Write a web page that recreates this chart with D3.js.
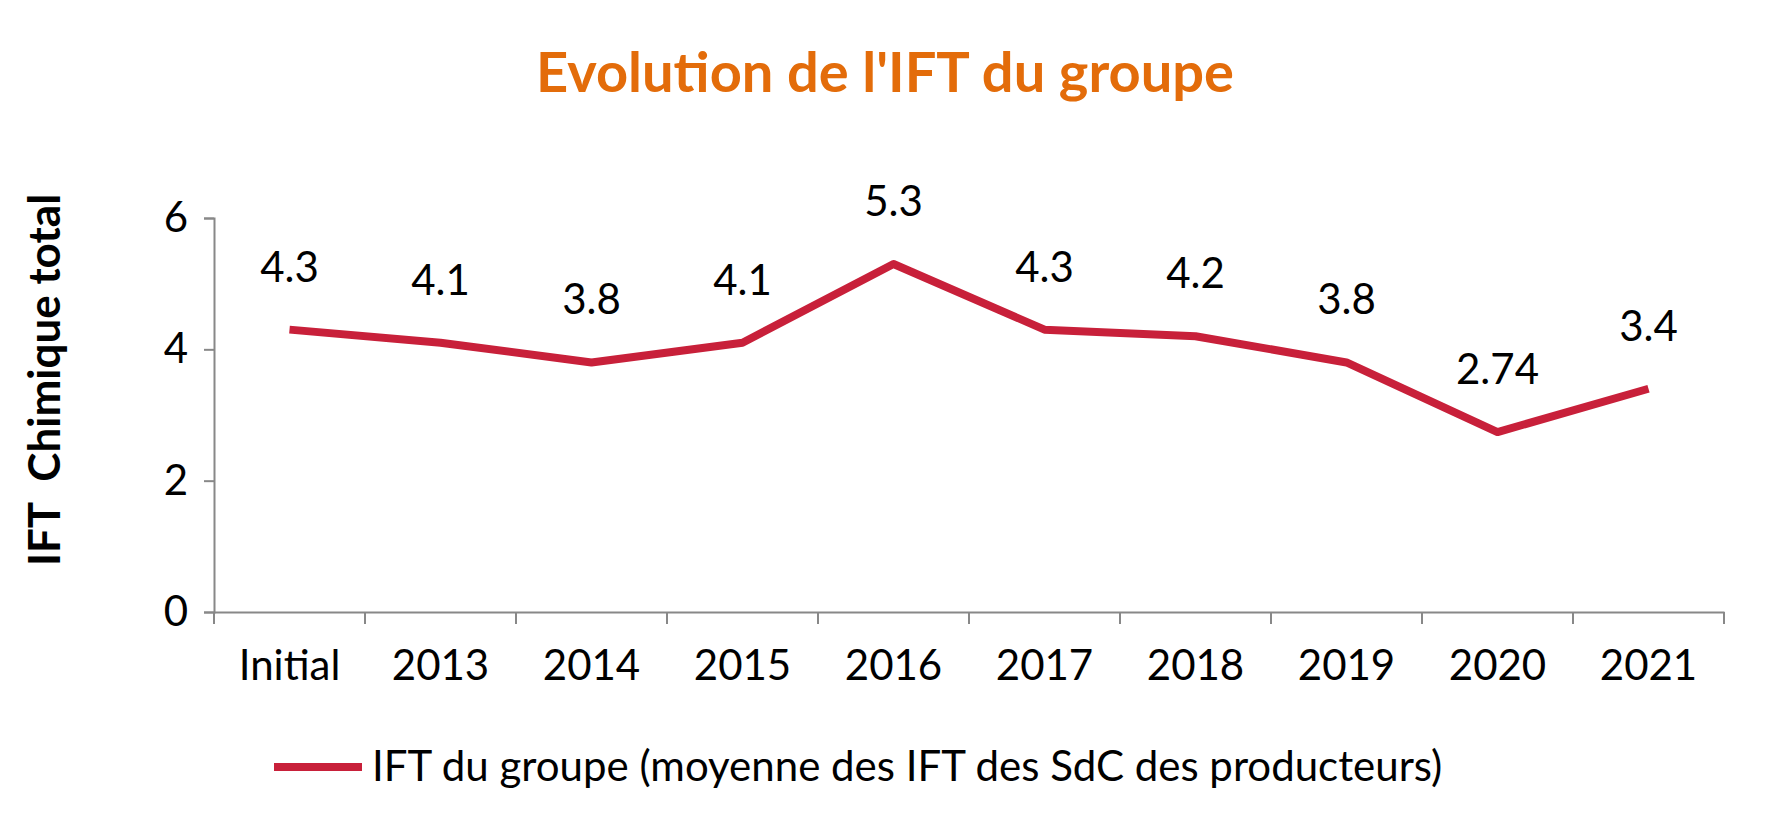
<!DOCTYPE html><html><head><meta charset="utf-8"><script src="https://cdn.jsdelivr.net/npm/d3@7"></script>
<style>body{margin:0;background:#fff}</style></head><body><svg id="c" width="1790" height="829"></svg>
<script>
const categories=["Initial","2013","2014","2015","2016","2017","2018","2019","2020","2021"];
const values=[4.3,4.1,3.8,4.1,5.3,4.3,4.2,3.8,2.74,3.4];
const labels=["4.3","4.1","3.8","4.1","5.3","4.3","4.2","3.8","2.74","3.4"];
const yTicks=[0,2,4,6];
const svg=d3.select("#c"),F="Lato, 'Open Sans', sans-serif",red="#c8203a";
const x=d3.scaleBand().domain(categories).range([214,1724]);
const y=d3.scaleLinear().domain([0,6]).range([612,218]);
svg.append("text").attr("x",885).attr("y",92).attr("text-anchor","middle").attr("font-family",F).attr("font-weight","bold").attr("font-size",56).attr("fill","#e36c0a").text("Evolution de l'IFT du groupe");
const ya=svg.append("g").attr("transform","translate(214,0)").call(d3.axisLeft(y).tickValues(yTicks).tickFormat(d3.format("d")).tickSize(10).tickPadding(16));
const xa=svg.append("g").attr("transform","translate(0,612)").call(d3.axisBottom(x).tickSize(0).tickPadding(38));
[ya,xa].forEach(a=>{a.selectAll("path,line").attr("stroke","#888").attr("stroke-width",2);a.selectAll("text").attr("font-family",F).attr("font-size",42).attr("fill","#000");});
xa.selectAll(".tk").data(d3.range(categories.length+1)).enter().append("line").attr("x1",i=>214+i*x.step()).attr("x2",i=>214+i*x.step()).attr("y1",0).attr("y2",12).attr("stroke","#888").attr("stroke-width",2);
svg.append("text").attr("transform","translate(60,"+(380)+") rotate(-90)").attr("text-anchor","middle").attr("font-family",F).attr("font-weight","bold").attr("font-size",44).attr("xml:space","preserve").text("IFT  Chimique total");
const cx=d=>x(d)+x.bandwidth()/2;
svg.append("path").datum(values).attr("fill","none").attr("stroke",red).attr("stroke-width",8).attr("stroke-linejoin","round")
 .attr("d",d3.line().x((d,i)=>cx(categories[i])).y(d=>y(d)));
svg.selectAll(".lb").data(values).enter().append("text").attr("x",(d,i)=>cx(categories[i])).attr("y",d=>y(d)-48).attr("text-anchor","middle").attr("font-family",F).attr("font-size",42).text((d,i)=>labels[i]);
svg.append("line").attr("x1",274).attr("x2",362).attr("y1",767).attr("y2",767).attr("stroke",red).attr("stroke-width",8);
svg.append("text").attr("x",372).attr("y",781).attr("font-family",F).attr("font-size",42).text("IFT du groupe (moyenne des IFT des SdC des producteurs)");
</script></body></html>
